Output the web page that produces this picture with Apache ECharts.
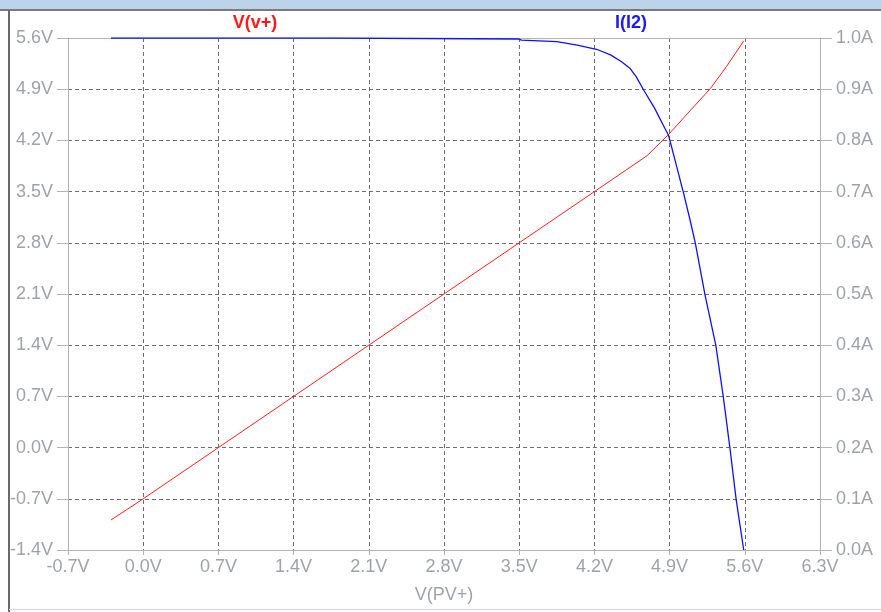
<!DOCTYPE html>
<html>
<head>
<meta charset="utf-8">
<script src="https://cdn.jsdelivr.net/npm/echarts@6/dist/echarts.min.js"></script>
<style>
html,body{margin:0;padding:0;background:#fff;}
#c{width:881px;height:612px;}
</style>
</head>
<body>
<div id="c"></div>
<script>
// V(v+) trace (left axis, volts) vs V(PV+)
var vPlusX = [-0.3, 0.0, 0.7, 1.4, 2.1, 2.8, 3.5, 4.2, 4.69, 4.89, 5.1, 5.28, 5.43, 5.59];
var vPlusY = [-0.99, -0.7, 0.0, 0.7, 1.4, 2.1, 2.8, 3.5, 3.99, 4.28, 4.62, 4.91, 5.21, 5.56];
// I(I2) trace (right axis, amps) vs V(PV+)
var iI2X = [-0.3, 1.77, 1.78, 3.5, 3.52, 3.85, 4.04, 4.22, 4.35, 4.45, 4.53, 4.59, 4.66, 4.76, 4.84, 4.89, 4.95, 5.03, 5.09, 5.14, 5.23, 5.33, 5.40, 5.46, 5.52, 5.59];
var iI2Y = [1.0, 1.0, 0.998, 0.998, 0.996, 0.993, 0.986, 0.978, 0.967, 0.954, 0.941, 0.924, 0.898, 0.863, 0.830, 0.810, 0.762, 0.697, 0.645, 0.599, 0.498, 0.400, 0.299, 0.202, 0.098, 0.0];
// axis ranges
var xRange = {min: -0.7, max: 6.3, interval: 0.7};
var vRange = {min: -1.4, max: 5.6, interval: 0.7};
var aRange = {min: 0.0, max: 1.0, interval: 0.1};
var traceNames = ['V(v+)', 'I(I2)'];
var xAxisTitle = 'V(PV+)';

function pairs(xs, ys) { return xs.map(function (x, i) { return [x, ys[i]]; }); }

var FONT = "'Liberation Sans', Arial, sans-serif";
var LABEL_COLOR = '#9fa3a9';
var AXIS_COLOR = '#b4b4b4';
var GRID_COLOR = '#6e6e6e';

var chart = echarts.init(document.getElementById('c'), null, {renderer: 'canvas'});
chart.setOption({
  animation: false,
  backgroundColor: '#ffffff',
  grid: {left: 68, right: 61, top: 38, bottom: 62, containLabel: false},
  graphic: [
    {type: 'rect', shape: {x: 0, y: 0, width: 881, height: 9}, style: {fill: '#bcd3ea'}},
    {type: 'line', shape: {x1: 0, y1: 10, x2: 881, y2: 10}, style: {stroke: '#7a7a7a', lineWidth: 2}},
    {type: 'line', shape: {x1: 9, y1: 10, x2: 9, y2: 612}, style: {stroke: '#6a6a6a', lineWidth: 2}},
    {type: 'line', shape: {x1: 9, y1: 609.5, x2: 881, y2: 609.5}, style: {stroke: '#d6d6d6', lineWidth: 1}},
    {type: 'text', x: 255, y: 23, style: {text: traceNames[0], fill: '#ff1a1a', font: 'bold 18px ' + FONT, align: 'center', verticalAlign: 'middle'}},
    {type: 'text', x: 631, y: 23, style: {text: traceNames[1], fill: '#1a1aff', font: 'bold 18px ' + FONT, align: 'center', verticalAlign: 'middle'}}
  ],
  xAxis: [{
    type: 'value', position: 'bottom',
    min: xRange.min, max: xRange.max, interval: xRange.interval,
    name: xAxisTitle, nameLocation: 'middle', nameGap: 36,
    nameTextStyle: {color: LABEL_COLOR, fontFamily: FONT, fontSize: 18},
    axisLine: {show: true, onZero: false, lineStyle: {color: AXIS_COLOR, width: 1}},
    axisTick: {show: true, inside: false, length: 5, lineStyle: {color: AXIS_COLOR}},
    axisLabel: {color: LABEL_COLOR, fontFamily: FONT, fontSize: 18, margin: 8,
      showMinLabel: true, showMaxLabel: true,
      formatter: function (v) { return v.toFixed(1) + 'V'; }},
    splitLine: {show: true, lineStyle: {color: GRID_COLOR, type: [4, 3], width: 1}}
  }, {
    type: 'value', position: 'top',
    min: xRange.min, max: xRange.max, interval: xRange.interval,
    axisLine: {show: true, onZero: false, lineStyle: {color: AXIS_COLOR, width: 1}},
    axisTick: {show: false}, axisLabel: {show: false}, splitLine: {show: false}
  }],
  yAxis: [{
    type: 'value', position: 'left',
    min: vRange.min, max: vRange.max, interval: vRange.interval,
    axisLine: {show: true, onZero: false, lineStyle: {color: AXIS_COLOR, width: 1}},
    axisTick: {show: true, inside: false, length: 11, lineStyle: {color: AXIS_COLOR}},
    axisLabel: {color: LABEL_COLOR, fontFamily: FONT, fontSize: 18, margin: 15,
      showMinLabel: true, showMaxLabel: true,
      formatter: function (v) { return v.toFixed(1) + 'V'; }},
    splitLine: {show: true, lineStyle: {color: GRID_COLOR, type: [4, 3], width: 1}}
  }, {
    type: 'value', position: 'right',
    min: aRange.min, max: aRange.max, interval: aRange.interval,
    axisLine: {show: true, onZero: false, lineStyle: {color: AXIS_COLOR, width: 1}},
    axisTick: {show: true, inside: false, length: 12, lineStyle: {color: AXIS_COLOR}},
    axisLabel: {color: LABEL_COLOR, fontFamily: FONT, fontSize: 18, margin: 16,
      showMinLabel: true, showMaxLabel: true,
      formatter: function (v) { return v.toFixed(1) + 'A'; }},
    splitLine: {show: false}
  }],
  series: [{
    name: traceNames[0], type: 'line', xAxisIndex: 0, yAxisIndex: 0,
    data: pairs(vPlusX, vPlusY), showSymbol: false, smooth: false,
    lineStyle: {color: '#ff2020', width: 1}, itemStyle: {color: '#ff2020'}
  }, {
    name: traceNames[1], type: 'line', xAxisIndex: 0, yAxisIndex: 1,
    data: pairs(iI2X, iI2Y), showSymbol: false, smooth: false,
    lineStyle: {color: '#1010ff', width: 1.3}, itemStyle: {color: '#1010ff'}
  }]
});
</script>
</body>
</html>
